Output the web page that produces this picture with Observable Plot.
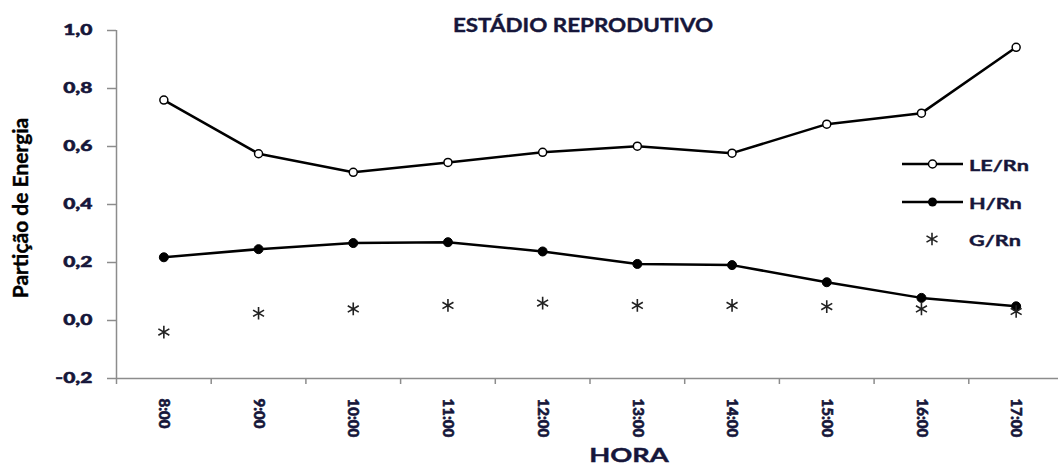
<!DOCTYPE html>
<html>
<head>
<meta charset="utf-8">
<script src="https://cdn.jsdelivr.net/npm/d3@7"></script>
<script src="https://cdn.jsdelivr.net/npm/@observablehq/plot@0.6"></script>
<style>
  body { margin: 0; background: #fff; }
  #wrap { position: relative; width: 1058px; height: 467px; overflow: hidden; }
</style>
</head>
<body>
<div id="wrap"></div>
<script>
// ---- data ----
const hours = ["8:00", "9:00", "10:00", "11:00", "12:00", "13:00", "14:00", "15:00", "16:00", "17:00"];
const leRn = [0.760, 0.575, 0.511, 0.545, 0.580, 0.601, 0.577, 0.677, 0.715, 0.942];
const hRn  = [0.218, 0.246, 0.267, 0.270, 0.238, 0.195, 0.191, 0.132, 0.078, 0.049];
const gRn  = [-0.040, 0.025, 0.040, 0.052, 0.060, 0.052, 0.052, 0.048, 0.040, 0.031];
const yTicks = [-0.2, 0.0, 0.2, 0.4, 0.6, 0.8, 1.0];
const seriesNames = ["LE/Rn", "H/Rn", "G/Rn"];
const chartTitle = "ESTÁDIO REPRODUTIVO";
const xTitle = "HORA";
const yTitle = "Partição de Energia";

// ---- styles ----
const FONT = "Lato, 'Open Sans', sans-serif";
const TXT = "#16163a";
const AXIS = "#8c8c8c";

const rows = hours.map((h, i) => ({ i, h, le: leRn[i], hr: hRn[i], g: gRn[i] }));
const bounds = d3.range(hours.length + 1).map(k => k - 0.5);
const fmt = d => d.toFixed(1).replace(".", ",");

const plot = Plot.plot({
  width: 1058,
  height: 467,
  marginLeft: 116,
  marginRight: 0,
  marginTop: 30,
  marginBottom: 89,
  style: { fontFamily: FONT, fontWeight: 700, color: TXT, background: "#fff", overflow: "visible" },
  x: { domain: [-0.5, hours.length - 0.5], range: [116, 1063], axis: null },
  y: { domain: [-0.2, 1.0], axis: null },
  marks: [
    Plot.axisY(yTicks, { anchor: "left", tickSize: 9, tickPadding: 15, tickFormat: fmt, label: null,
      stroke: AXIS, strokeWidth: 1.5, fill: TXT, fontSize: 15, fontWeight: 900 }),
    Plot.axisX(bounds, { anchor: "bottom", tickSize: 6, tickFormat: () => "", label: null,
      stroke: AXIS, strokeWidth: 1.5 }),
    Plot.ruleX([-0.5], { stroke: AXIS, strokeWidth: 1.5 }),
    Plot.ruleY([-0.2], { stroke: AXIS, strokeWidth: 1.5 }),
    Plot.text(rows, { x: "i", text: "h", frameAnchor: "bottom", dy: 20, rotate: 90,
      textAnchor: "start", lineAnchor: "middle", fontSize: 15, fontWeight: 900, fill: TXT,
      stroke: TXT, strokeWidth: 0.6 }),
    Plot.line(rows, { x: "i", y: "le", stroke: "#000", strokeWidth: 2.5 }),
    Plot.line(rows, { x: "i", y: "hr", stroke: "#000", strokeWidth: 2.5 }),
    Plot.dot(rows, { x: "i", y: "le", r: 4, fill: "#fff", stroke: "#000", strokeWidth: 1.5 }),
    Plot.dot(rows, { x: "i", y: "hr", r: 4.5, fill: "#000", stroke: "#000", strokeWidth: 1 }),
    Plot.dot(rows, { x: "i", y: "g", symbol: "asterisk", r: 6, stroke: "#222", strokeWidth: 1.6 })
  ]
});

document.getElementById("wrap").appendChild(plot);
const svg = d3.select(plot);

// horizontally stretch the y tick labels and thicken them slightly
function stretch(el, sx, sy) {
  const t = el.getAttribute("transform");
  if (t) {
    el.setAttribute("transform", t + ` scale(${sx},${sy})`);
  } else {
    const x = +el.getAttribute("x") || 0, y = +el.getAttribute("y") || 0;
    el.setAttribute("transform", `translate(${x},${y}) scale(${sx},${sy}) translate(${-x},${-y})`);
  }
}
svg.selectAll("g[aria-label='y-axis tick label'] text").each(function () {
  stretch(this, 1.4, 1);
  this.setAttribute("stroke", TXT);
  this.setAttribute("stroke-width", 0.5);
});

function addText(transform, anchor, size, fill, text, thick) {
  return svg.append("text")
    .attr("transform", transform)
    .attr("text-anchor", anchor).attr("font-size", size).attr("font-weight", 700)
    .attr("fill", fill).attr("font-family", FONT)
    .attr("stroke", fill).attr("stroke-width", thick)
    .text(text);
}

// titles
addText("translate(583,32) scale(1.15,1)", "middle", 19.5, TXT, chartTitle, 0.4);
addText("translate(629,462) scale(1.4,1)", "middle", 19.5, TXT, xTitle, 0.4);
addText("translate(28,208) rotate(-90)", "middle", 21, "#000", yTitle, 0.4);

// legend
const lg = svg.append("g");
const legY = [164, 202, 239];
[0, 1].forEach(k => {
  lg.append("line").attr("x1", 902).attr("x2", 963).attr("y1", legY[k]).attr("y2", legY[k])
    .attr("stroke", "#000").attr("stroke-width", 2.5);
});
lg.append("circle").attr("cx", 932.5).attr("cy", legY[0]).attr("r", 4)
  .attr("fill", "#fff").attr("stroke", "#000").attr("stroke-width", 1.5);
lg.append("circle").attr("cx", 932.5).attr("cy", legY[1]).attr("r", 4.5).attr("fill", "#000");
lg.append("path").attr("transform", `translate(932,${legY[2]})`)
  .attr("d", d3.symbol(d3.symbolAsterisk, 6 * 6 * Math.PI)())
  .attr("fill", "none").attr("stroke", "#222").attr("stroke-width", 1.6);
seriesNames.forEach((s, k) => {
  addText(`translate(969,${legY[k] + 6.5}) scale(1.4,1)`, "start", 15.5, TXT, s, 0.4);
});
</script>
</body>
</html>
